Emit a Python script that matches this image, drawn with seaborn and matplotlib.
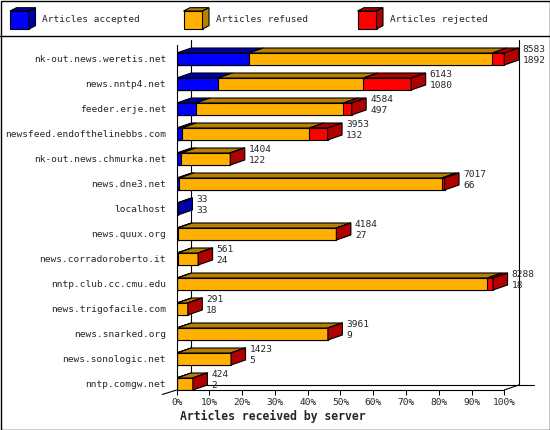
import matplotlib
matplotlib.use("Agg")
import pandas as pd
import matplotlib.pyplot as plt
from matplotlib.patches import Polygon, Rectangle
import seaborn as sns

servers = [
    "nk-out.news.weretis.net", "news.nntp4.net", "feeder.erje.net",
    "newsfeed.endofthelinebbs.com", "nk-out.news.chmurka.net", "news.dne3.net",
    "localhost", "news.quux.org", "news.corradoroberto.it",
    "nntp.club.cc.cmu.edu", "news.trigofacile.com", "news.snarked.org",
    "news.sonologic.net", "nntp.comgw.net",
]
total = [8583, 6143, 4584, 3953, 1404, 7017, 33, 4184, 561, 8288, 291, 3961, 1423, 424]
accepted = [1892, 1080, 497, 132, 122, 66, 33, 27, 24, 18, 18, 9, 5, 2]
refused = [6377, 3809, 3867, 3342, 1267, 6877, 0, 4153, 535, 8119, 271, 3949, 1416, 421]
rejected = [314, 1254, 220, 479, 15, 74, 0, 4, 2, 151, 2, 3, 2, 1]

series_names = ["Articles accepted", "Articles refused", "Articles rejected"]
front_colors = ["#0000ff", "#ffb000", "#ff0000"]
dark_colors = ["#0000a8", "#b88000", "#b00000"]
tick_labels = ["0%", "10%", "20%", "30%", "40%", "50%", "60%", "70%", "80%", "90%", "100%"]

W, H = 550, 430
PX = 3.276          # pixels per percent
DX = 14.5 / PX      # depth, x
DY = 0.2            # depth, y (category units)
BAR_H = 0.48
Y_TOP, Y_BOT = -0.56, 13.24
FS = 6.8

# bars are scaled so the biggest server is 100%
scale = 100.0 / max(total)
df = pd.DataFrame({"server": servers})
df["acc_end"] = [a * scale for a in accepted]
df["ref_end"] = [(a + r) * scale for a, r in zip(accepted, refused)]
df["tot_end"] = [(a + r + j) * scale for a, r, j in zip(accepted, refused, rejected)]

sns.set_theme(style="white")
plt.rcParams["font.family"] = ["DejaVu Sans Mono", "DejaVu Sans"]

fig = plt.figure(figsize=(W / 100, H / 100), dpi=100)
bg = fig.add_axes([0, 0, 1, 1])
bg.set_xlim(0, W)
bg.set_ylim(H, 0)
bg.axis("off")

ax = fig.add_axes([176.7 / W, 40 / H, 110 * PX / W, 345 / H])
ax.patch.set_visible(False)

# stacked front faces: draw cumulative widths, longest first
for col, color in zip(["tot_end", "ref_end", "acc_end"], front_colors[::-1]):
    sns.barplot(data=df, x=col, y="server", order=servers, orient="h",
                color=color, saturation=1, width=BAR_H, errorbar=None,
                edgecolor="black", linewidth=0.8, ax=ax)

# 3d top and side faces
for i, row in df.iterrows():
    segs = [(0, row.acc_end), (row.acc_end, row.ref_end), (row.ref_end, row.tot_end)]
    yt = i - BAR_H / 2
    yb = i + BAR_H / 2
    last = 0
    for k, (x0, x1) in enumerate(segs):
        if x1 - x0 <= 0:
            continue
        last = k
        ax.add_patch(Polygon([(x0, yt), (x1, yt), (x1 + DX, yt - DY), (x0 + DX, yt - DY)],
                             closed=True, fc=dark_colors[k], ec="black", lw=0.8, zorder=3))
    xe = row.tot_end
    ax.add_patch(Polygon([(xe, yt), (xe, yb), (xe + DX, yb - DY), (xe + DX, yt - DY)],
                         closed=True, fc=dark_colors[last], ec="black", lw=0.8, zorder=3))
    tx = xe + DX + 4 / PX
    ax.text(tx, i - 0.36, str(total[i]), fontsize=FS, va="center", ha="left", clip_on=False)
    ax.text(tx, i + 0.08, str(accepted[i]), fontsize=FS, va="center", ha="left", clip_on=False)

# walls and floor
line = dict(color="black", lw=0.8, clip_on=False)
ax.plot([DX, DX], [Y_BOT - DY, Y_TOP - DY], zorder=0.5, **line)
ax.plot([100 + DX, 100 + DX], [Y_BOT - DY, Y_TOP - DY], zorder=0.5, **line)
ax.plot([DX, (534 - 176.7) / PX], [Y_BOT - DY, Y_BOT - DY], zorder=0.5, **line)
ax.plot([0, 100], [Y_BOT, Y_BOT], **line)
ax.plot([100, 100 + DX], [Y_BOT, Y_BOT - DY], **line)
ax.plot([-DX, 0], [Y_BOT + 0.18, Y_BOT], **line)

ax.set_xlim(0, 110)
ax.set_ylim(Y_BOT, Y_TOP)
ax.set_xticks(range(0, 101, 10))
ax.set_xticklabels(tick_labels)
ax.set_xlabel("")
ax.set_ylabel("")
ax.tick_params(axis="x", bottom=True, length=3.6, width=0.72, pad=2,
               labelsize=FS, color="black", direction="out")
ax.tick_params(axis="y", left=False, length=0, pad=7.7, labelsize=FS)
for side in ["top", "right", "bottom"]:
    ax.spines[side].set_visible(False)
ax.spines["left"].set_color("black")
ax.spines["left"].set_linewidth(0.8)

bg.text(180, 416.7, "Articles received by server", fontsize=8.3,
        fontweight="bold", va="center", ha="left")

# legend with little cubes
for x0, name, fc, dc in zip([10, 183.5, 357.5], series_names, front_colors, dark_colors):
    x1, y0, y1 = x0 + 19, 11, 29
    bg.add_patch(Rectangle((x0, y0), 19, 18, fc=fc, ec="black", lw=0.8))
    bg.add_patch(Polygon([(x0, y0), (x1, y0), (x1 + 6.5, y0 - 3.3), (x0 + 6.5, y0 - 3.3)],
                         closed=True, fc=dc, ec="black", lw=0.8))
    bg.add_patch(Polygon([(x1, y0), (x1, y1), (x1 + 6.5, y1 - 3.3), (x1 + 6.5, y0 - 3.3)],
                         closed=True, fc=dc, ec="black", lw=0.8))
    bg.text(x0 + 32.5, 20, name, fontsize=FS, va="center", ha="left")

bg.plot([0, W], [35.5, 35.5], color="black", lw=1)
bg.add_patch(Rectangle((0.5, 0.5), W - 1, H - 1, fill=False, ec="black", lw=1))

fig.savefig("out.png", dpi=100)
